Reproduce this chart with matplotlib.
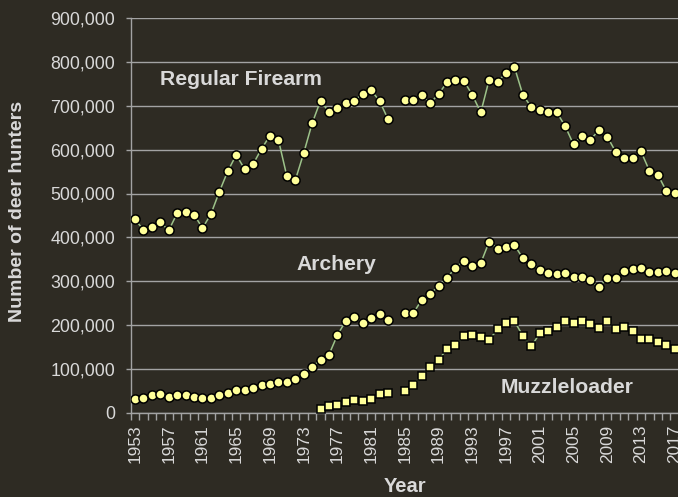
import matplotlib
matplotlib.use("Agg")
import matplotlib.pyplot as plt
import numpy as np
from matplotlib.ticker import FuncFormatter

# annees 1953 -> 2017 (pas de donnees en 1984)
years = list(range(1953, 2018))

firearm = [441, 417, 424, 434, 416, 455, 458, 452, 421, 453,
           504, 551, 588, 556, 567, 602, 632, 623, 540, 530,
           592, 660, 712, 686, 695, 707, 712, 728, 736, 711,
           670, None, 714, 713, 725, 706, 727, 754, 760, 757,
           725, 685, 760, 754, 776, 788, 725, 697, 691, 686,
           686, 654, 612, 632, 623, 644, 630, 595, 581, 581,
           596, 552, 543, 506, 502]

archery = [31, 34, 39, 42, 36, 39, 40, 36, 32, 34,
           41, 44, 52, 52, 56, 62, 64, 69, 69, 76,
           89, 104, 120, 132, 177, 209, 217, 205, 215, 225,
           212, None, 227, 227, 257, 271, 288, 307, 331, 346,
           335, 341, 390, 374, 377, 382, 352, 339, 326, 318,
           316, 319, 309, 309, 302, 286, 306, 307, 323, 327,
           329, 321, 321, 323, 318]

muzzle = [None] * 22 + [
           8, 14, 17, 23, 28, 27, 31, 43,
           44, None, 50, 63, 84, 104, 119, 146, 155, 174,
           177, 172, 166, 190, 204, 208, 175, 151, 181, 187,
           196, 210, 204, 209, 202, 192, 210, 190, 196, 187,
           168, 168, 162, 153, 145]

def to_arr(v):
    return np.array([np.nan if a is None else a * 1000 for a in v], dtype=float)

bg = "#2e2b23"
txt = "#d9d9d9"
grid = "#a3a3a3"
line_c = "#9dc38a"
fill_c = "#ffff99"

plt.rcParams["font.family"] = ["Liberation Sans", "DejaVu Sans"]

fig = plt.figure(figsize=(6.78, 4.97), dpi=100, facecolor=bg)
ax = fig.add_axes([130.8 / 678, 84.5 / 497, 1 - 130.8 / 678, 394.2 / 497])
ax.set_facecolor(bg)

x = np.arange(len(years))

ax.plot(x, to_arr(firearm), color=line_c, lw=1.1, marker="o", ms=6.6,
        mfc=fill_c, mec="black", mew=1.1, zorder=3)
ax.plot(x, to_arr(archery), color=line_c, lw=1.1, marker="o", ms=6.6,
        mfc=fill_c, mec="black", mew=1.1, zorder=3)
ax.plot(x, to_arr(muzzle), color=line_c, lw=1.1, marker="s", ms=6.4,
        mfc=fill_c, mec="black", mew=1.1, zorder=3)

ax.set_xlim(-0.5, 64.39)
ax.set_ylim(0, 900000)

# grille horizontale
ax.set_yticks(np.arange(0, 900001, 100000))
ax.yaxis.set_major_formatter(FuncFormatter(lambda v, p: "0" if v == 0 else f"{int(v):,}"))
ax.grid(axis="y", color=grid, lw=1.0, zorder=1)
ax.set_axisbelow(True)

# etiquettes annees tous les 4 ans, petites graduations entre les annees
ax.set_xticks(x[::4])
ax.set_xticklabels([str(y) for y in years[::4]], rotation=90)
ax.set_xticks(np.arange(-0.5, 64.5, 1), minor=True)
ax.tick_params(axis="x", which="major", length=0, pad=8.5, labelsize=12.4, labelcolor=txt)
ax.tick_params(axis="x", which="minor", length=4.8, width=1.0, color=grid, direction="out")
ax.tick_params(axis="y", length=3.4, width=1.0, color=grid, pad=7.9, labelsize=12.8, labelcolor=txt)

for s in ["top", "right"]:
    ax.spines[s].set_visible(False)
for s in ["left", "bottom"]:
    ax.spines[s].set_color(grid)
    ax.spines[s].set_linewidth(1.0)

# noms des series
ax.text(12.57, 748000, "Regular Firearm", color=txt, fontsize=15.2, fontweight="bold",
        ha="center", va="baseline")
ax.text(23.83, 326000, "Archery", color=txt, fontsize=15.2, fontweight="bold",
        ha="center", va="baseline")
ax.text(51.29, 45000, "Muzzleloader", color=txt, fontsize=15.2, fontweight="bold",
        ha="center", va="baseline")

fig.text(18 / 678, 1 - 211.5 / 497, "Number of deer hunters", rotation=90, color=txt,
         fontsize=14, fontweight="bold", ha="center", va="center")
fig.text(405 / 678, 1 - 487 / 497, "Year", color=txt, fontsize=14.5, fontweight="bold",
         ha="center", va="center")

fig.savefig("out.png", dpi=100, facecolor=bg)
